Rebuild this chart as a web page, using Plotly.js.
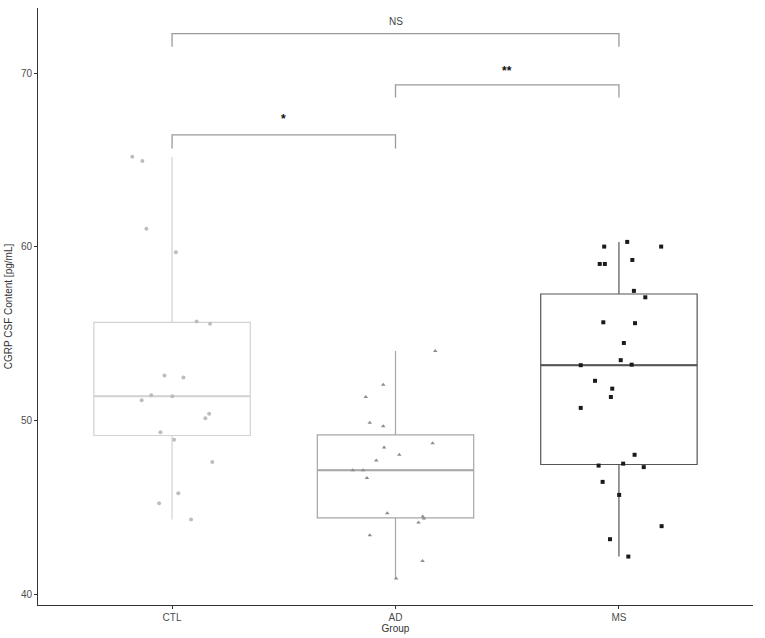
<!DOCTYPE html>
<html>
<head>
<meta charset="utf-8">
<script src="https://cdn.plot.ly/plotly-3.0.1.min.js"></script>
<style>html,body{margin:0;padding:0;background:#fff;}#chart{width:765px;height:638px;}</style>
</head>
<body>
<div id="chart"></div>
<script>
// Categories
const groups = ['CTL', 'AD', 'MS'];
const tickValues = [40, 50, 60, 70];

// Box statistics (per group)
const boxLow    = [44.30, 40.90, 42.17];
const boxQ1     = [49.14, 44.40, 47.47];
const boxMedian = [51.40, 47.14, 53.19];
const boxQ3     = [55.66, 49.18, 57.29];
const boxHigh   = [65.18, 54.01, 60.29];

// Individual observations (CGRP CSF content, pg/mL)
const ctlValues = [65.20, 64.95, 61.05, 59.69, 55.70, 55.57, 52.59, 52.48, 51.46, 51.40,
                   51.17, 50.39, 50.14, 49.33, 48.89, 47.62, 45.82, 45.24, 44.30];
const ctlJitter = [-0.178, -0.133, -0.115, 0.017, 0.110, 0.170, -0.034, 0.051, -0.093, 0.001,
                   -0.136, 0.166, 0.149, -0.052, 0.009, 0.180, 0.028, -0.058, 0.085];

const adValues = [54.01, 52.07, 51.36, 49.88, 49.68, 48.70, 48.45, 48.03, 47.70, 47.14,
                  47.14, 46.70, 44.67, 44.47, 44.36, 44.13, 43.40, 41.92, 40.90];
const adJitter = [0.178, -0.055, -0.133, -0.115, -0.055, 0.166, -0.051, 0.017, -0.086, -0.191,
                  -0.145, -0.128, -0.037, 0.122, 0.127, 0.103, -0.115, 0.121, 0.003];

const msValues = [60.29, 60.02, 60.02, 59.25, 59.02, 59.02, 57.47, 57.10, 55.66, 55.61,
                  54.47, 53.48, 53.19, 53.22, 52.29, 51.84, 51.36, 50.73, 48.03, 47.41,
                  47.52, 47.32, 46.47, 45.72, 43.92, 43.17, 42.17];
const msJitter = [0.037, -0.066, 0.189, 0.060, -0.086, -0.063, 0.067, 0.118, -0.070, 0.072,
                  0.022, 0.008, -0.171, 0.057, -0.107, -0.030, -0.036, -0.171, 0.070, -0.091,
                  0.019, 0.111, -0.073, 0.001, 0.191, -0.040, 0.042];

// Significance comparisons
const bracketFrom   = [0, 1, 0];
const bracketTo     = [1, 2, 2];
const bracketLevel  = [66.45, 69.33, 72.28];
const bracketDrop   = [65.67, 68.60, 71.53];
const bracketLabels = ['*', '**', 'NS'];
const bracketLabelY = [67.35, 70.15, 73.0];

const boxColors   = ['#d2d2d2', '#a6a6a6', '#555555'];
const pointColors = ['#bdbdbd', '#8c8c8c', '#1a1a1a'];
const pointSymbols = ['circle', 'triangle-up', 'square'];
const valuesList = [ctlValues, adValues, msValues];
const jitterList = [ctlJitter, adJitter, msJitter];
const boxWidth = 0.7;

const traces = [];
groups.forEach((g, i) => {
  traces.push({
    type: 'box',
    x: [i],
    q1: [boxQ1[i]], median: [boxMedian[i]], q3: [boxQ3[i]],
    lowerfence: [boxLow[i]], upperfence: [boxHigh[i]],
    width: boxWidth,
    whiskerwidth: 0,
    boxpoints: false,
    fillcolor: 'rgba(255,255,255,0)',
    line: {color: boxColors[i], width: 1.2},
    hoverinfo: 'skip',
    showlegend: false
  });
  // thicker median line, as in ggplot
  traces.push({
    type: 'scatter', mode: 'lines',
    x: [i - boxWidth / 2, i + boxWidth / 2],
    y: [boxMedian[i], boxMedian[i]],
    line: {color: boxColors[i], width: 2},
    hoverinfo: 'skip', showlegend: false
  });
});
groups.forEach((g, i) => {
  traces.push({
    type: 'scatter',
    mode: 'markers',
    x: valuesList[i].map((v, k) => i + jitterList[i][k]),
    y: valuesList[i],
    marker: {symbol: pointSymbols[i], size: 4, color: pointColors[i]},
    showlegend: false,
    hoverinfo: 'y'
  });
});
bracketLabels.forEach((lab, j) => {
  traces.push({
    type: 'scatter',
    mode: 'lines',
    x: [bracketFrom[j], bracketFrom[j], bracketTo[j], bracketTo[j]],
    y: [bracketDrop[j], bracketLevel[j], bracketLevel[j], bracketDrop[j]],
    line: {color: '#9a9a9a', width: 1.3},
    showlegend: false,
    hoverinfo: 'skip'
  });
});

const annotations = bracketLabels.map((lab, j) => ({
  x: (bracketFrom[j] + bracketTo[j]) / 2,
  y: bracketLabelY[j],
  xref: 'x', yref: 'y',
  text: lab === 'NS' ? lab : '<b>' + lab + '</b>',
  showarrow: false,
  font: {family: 'Liberation Sans, Arial, sans-serif', size: lab === 'NS' ? 10 : 12, color: lab === 'NS' ? '#444' : '#111'},
  xanchor: 'center', yanchor: 'middle'
}));

const layout = {
  width: 765, height: 638,
  margin: {l: 38, r: 12, t: 8, b: 33},
  paper_bgcolor: '#ffffff',
  plot_bgcolor: '#ffffff',
  font: {family: 'Liberation Sans, Arial, sans-serif', size: 10, color: '#4d4d4d'},
  xaxis: {
    range: [-0.6, 2.6],
    tickvals: [0, 1, 2],
    ticktext: groups,
    showgrid: false, zeroline: false,
    showline: true, linecolor: '#333333', linewidth: 1,
    ticks: 'outside', ticklen: 3, tickcolor: '#333333',
    tickfont: {size: 10, color: '#4d4d4d'},
    title: {text: 'Group', font: {size: 10, color: '#333'}, standoff: 2}
  },
  yaxis: {
    range: [39.38, 73.76],
    tickvals: tickValues,
    showgrid: false, zeroline: false,
    showline: true, linecolor: '#333333', linewidth: 1,
    ticks: 'outside', ticklen: 3, tickcolor: '#333333',
    tickfont: {size: 10, color: '#4d4d4d'},
    title: {text: 'CGRP CSF Content [pg/mL]', font: {size: 10, color: '#333'}, standoff: 6}
  },
  annotations: annotations
};

Plotly.newPlot('chart', traces, layout, {displayModeBar: false, staticPlot: true});
</script>
</body>
</html>
